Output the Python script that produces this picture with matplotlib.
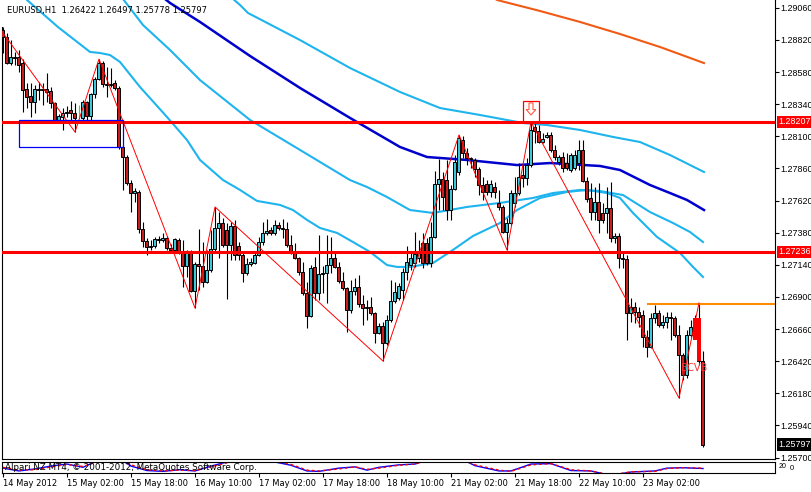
import numpy as np
import matplotlib
matplotlib.use('Agg')
import matplotlib.pyplot as plt
from matplotlib.patches import Rectangle, Polygon

plt.rcParams['font.family'] = ['DejaVu Sans']

# EURUSD H1 candles (bar index 0 = 14 May 2012)
opens = [
    1.28894, 1.28842, 1.28647, 1.28692, 1.28692, 1.28647, 1.28453, 1.28401, 1.28356, 1.28453,
    1.28446, 1.28453, 1.28438, 1.28349, 1.28214, 1.28244, 1.28274, 1.28296, 1.28274, 1.28274,
    1.28237, 1.28356, 1.28252, 1.28416, 1.28528, 1.28647, 1.28491, 1.28483, 1.28498, 1.28461,
    1.28020, 1.27945, 1.27751, 1.27676, 1.27684, 1.27407, 1.27318, 1.27273, 1.27280, 1.27333,
    1.27325, 1.27340, 1.27265, 1.27251, 1.27325, 1.27236, 1.27131, 1.27228, 1.26944, 1.27146,
    1.27131, 1.27012, 1.27101, 1.27258, 1.27415, 1.27452, 1.27400, 1.27288, 1.27430, 1.27280,
    1.27213, 1.27079, 1.27146, 1.27153, 1.27213, 1.27310, 1.27378, 1.27400, 1.27378, 1.27437,
    1.27415, 1.27407, 1.27288, 1.27228, 1.27191, 1.27086, 1.26929, 1.26757, 1.27124, 1.26929,
    1.27071, 1.27079, 1.27138, 1.27191, 1.27124, 1.27019, 1.26967, 1.26802, 1.26944, 1.26974,
    1.26847, 1.26817, 1.26825, 1.26780, 1.26631, 1.26683, 1.26556, 1.26728, 1.26870, 1.26892,
    1.26952, 1.27086, 1.27138, 1.27153, 1.27191, 1.27303, 1.27303, 1.27153, 1.27348, 1.27744,
    1.27781, 1.27773, 1.27549, 1.27706, 1.27833, 1.28072, 1.27975, 1.27938, 1.27923, 1.27856,
    1.27736, 1.27744, 1.27684, 1.27721, 1.27602, 1.27572, 1.27385, 1.27452, 1.27602, 1.27676,
    1.27811, 1.27788, 1.27885, 1.28169, 1.28139, 1.28057, 1.28095, 1.28110, 1.27998, 1.27908,
    1.27945, 1.27900, 1.27848, 1.27863, 1.27900, 1.27998, 1.27766, 1.27639, 1.27534, 1.27609,
    1.27527, 1.27527, 1.27564, 1.27340, 1.27355, 1.27191, 1.27183, 1.26780, 1.26825, 1.26787,
    1.26765, 1.26601, 1.26526, 1.26743, 1.26780, 1.26690, 1.26713, 1.26750, 1.26743, 1.26616,
    1.26466, 1.26317, 1.26616, 1.26675, 1.26743, 1.26422]
highs = [
    1.28916, 1.28872, 1.28819, 1.28730, 1.28745, 1.28677, 1.28498, 1.28498, 1.28483, 1.28505,
    1.28498, 1.28573, 1.28468, 1.28356, 1.28266, 1.28311, 1.28326, 1.28364, 1.28349, 1.28334,
    1.28371, 1.28364, 1.28423, 1.28543, 1.28677, 1.28662, 1.28618, 1.28610, 1.28520, 1.28476,
    1.28035, 1.27960, 1.27773, 1.27714, 1.27699, 1.27460, 1.27340, 1.27325, 1.27348, 1.27355,
    1.27378, 1.27355, 1.27295, 1.27340, 1.27340, 1.27325, 1.27251, 1.27251, 1.27161, 1.27407,
    1.27310, 1.27251, 1.27400, 1.27572, 1.27534, 1.27490, 1.27452, 1.27460, 1.27475, 1.27310,
    1.27236, 1.27191, 1.27191, 1.27228, 1.27348, 1.27460, 1.27482, 1.27422, 1.27475, 1.27460,
    1.27482, 1.27460, 1.27363, 1.27303, 1.27198, 1.27161, 1.27012, 1.27138, 1.27198, 1.27363,
    1.27131, 1.27363, 1.27348, 1.27228, 1.27161, 1.27086, 1.26974, 1.27026, 1.27041, 1.27064,
    1.26914, 1.26877, 1.26899, 1.26787, 1.26705, 1.26713, 1.26765, 1.27026, 1.27012, 1.27004,
    1.27116, 1.27280, 1.27228, 1.27385, 1.27325, 1.27378, 1.27340, 1.27460, 1.27841, 1.27930,
    1.27833, 1.27923, 1.27736, 1.27960, 1.28110, 1.28102, 1.28012, 1.27945, 1.27938, 1.27871,
    1.27796, 1.27773, 1.27773, 1.27759, 1.27699, 1.27587, 1.27490, 1.27699, 1.27796, 1.27900,
    1.27885, 1.27938, 1.28207, 1.28199, 1.28184, 1.28125, 1.28132, 1.28132, 1.28035, 1.27960,
    1.27983, 1.27975, 1.27975, 1.27998, 1.28072, 1.28072, 1.27796, 1.27751, 1.27721, 1.27751,
    1.27602, 1.27721, 1.27759, 1.27378, 1.27378, 1.27228, 1.27213, 1.26892, 1.26862, 1.26825,
    1.26802, 1.26653, 1.26780, 1.26840, 1.26802, 1.26765, 1.26787, 1.26787, 1.26757, 1.26690,
    1.26481, 1.26653, 1.26728, 1.26765, 1.26855, 1.26497]
lows = [
    1.28722, 1.28640, 1.28632, 1.28632, 1.28580, 1.28281, 1.28311, 1.28244, 1.28274, 1.28371,
    1.28334, 1.28356, 1.28311, 1.28199, 1.28199, 1.28147, 1.28244, 1.28222, 1.28132, 1.28237,
    1.28222, 1.28222, 1.28222, 1.28386, 1.28520, 1.28468, 1.28393, 1.28468, 1.28446, 1.28005,
    1.27699, 1.27736, 1.27534, 1.27609, 1.27378, 1.27273, 1.27213, 1.27251, 1.27265, 1.27303,
    1.27310, 1.27251, 1.27236, 1.27228, 1.27221, 1.26974, 1.27049, 1.26937, 1.26817, 1.26952,
    1.26974, 1.27004, 1.27086, 1.27243, 1.27191, 1.27273, 1.26885, 1.27176, 1.27176, 1.27176,
    1.27012, 1.27064, 1.27131, 1.27146, 1.27206, 1.27288, 1.27363, 1.27363, 1.27363, 1.27400,
    1.27340, 1.27273, 1.27221, 1.27183, 1.27064, 1.26914, 1.26668, 1.26750, 1.26877, 1.26877,
    1.26929, 1.26855, 1.27079, 1.27116, 1.27004, 1.26952, 1.26638, 1.26780, 1.26914, 1.26825,
    1.26690, 1.26728, 1.26765, 1.26556, 1.26623, 1.26421, 1.26541, 1.26713, 1.26855, 1.26877,
    1.26877, 1.27026, 1.27101, 1.27124, 1.27161, 1.27116, 1.27138, 1.27124, 1.27340, 1.27549,
    1.27549, 1.27475, 1.27475, 1.27699, 1.27811, 1.27938, 1.27885, 1.27863, 1.27796, 1.27661,
    1.27624, 1.27661, 1.27646, 1.27639, 1.27549, 1.27378, 1.27251, 1.27437, 1.27572, 1.27661,
    1.27721, 1.27736, 1.27871, 1.28050, 1.28050, 1.28050, 1.28087, 1.27983, 1.27923, 1.27885,
    1.27833, 1.27848, 1.27833, 1.27848, 1.27848, 1.27759, 1.27609, 1.27475, 1.27475, 1.27378,
    1.27452, 1.27378, 1.27310, 1.27303, 1.27116, 1.27116, 1.26578, 1.26713, 1.26705, 1.26675,
    1.26526, 1.26451, 1.26518, 1.26705, 1.26675, 1.26668, 1.26668, 1.26578, 1.26601, 1.26145,
    1.26279, 1.26294, 1.26601, 1.26638, 1.26391, 1.25778]
closes = [
    1.28842, 1.28647, 1.28692, 1.28685, 1.28632, 1.28446, 1.28393, 1.28356, 1.28453, 1.28446,
    1.28453, 1.28431, 1.28349, 1.28214, 1.28252, 1.28274, 1.28281, 1.28274, 1.28237, 1.28274,
    1.28356, 1.28252, 1.28416, 1.28528, 1.28647, 1.28491, 1.28483, 1.28491, 1.28461, 1.28020,
    1.27945, 1.27751, 1.27676, 1.27691, 1.27407, 1.27318, 1.27273, 1.27280, 1.27333, 1.27325,
    1.27340, 1.27265, 1.27251, 1.27333, 1.27236, 1.27131, 1.27236, 1.26944, 1.27146, 1.27131,
    1.27012, 1.27101, 1.27258, 1.27415, 1.27452, 1.27288, 1.27288, 1.27430, 1.27213, 1.27213,
    1.27079, 1.27146, 1.27161, 1.27213, 1.27310, 1.27378, 1.27392, 1.27378, 1.27437, 1.27415,
    1.27407, 1.27288, 1.27228, 1.27191, 1.27086, 1.26929, 1.26757, 1.27116, 1.26929, 1.27071,
    1.27079, 1.27138, 1.27191, 1.27124, 1.27019, 1.26967, 1.26802, 1.26944, 1.26974, 1.26847,
    1.26817, 1.26825, 1.26780, 1.26631, 1.26683, 1.26556, 1.26728, 1.26870, 1.26937, 1.26982,
    1.27086, 1.27161, 1.27191, 1.27221, 1.27228, 1.27153, 1.27153, 1.27348, 1.27744, 1.27781,
    1.27646, 1.27549, 1.27706, 1.27908, 1.28087, 1.27975, 1.27938, 1.27930, 1.27856, 1.27736,
    1.27684, 1.27684, 1.27744, 1.27684, 1.27572, 1.27385, 1.27452, 1.27676, 1.27676, 1.27796,
    1.27788, 1.27885, 1.28147, 1.28139, 1.28057, 1.28080, 1.28110, 1.27998, 1.27945, 1.27945,
    1.27863, 1.27863, 1.27960, 1.27960, 1.27998, 1.27766, 1.27632, 1.27534, 1.27609, 1.27475,
    1.27475, 1.27564, 1.27340, 1.27355, 1.27191, 1.27183, 1.26780, 1.26825, 1.26787, 1.26750,
    1.26601, 1.26526, 1.26743, 1.26780, 1.26690, 1.26713, 1.26750, 1.26743, 1.26616, 1.26466,
    1.26317, 1.26616, 1.26675, 1.26743, 1.26421, 1.25797]

# zigzag turning points
zz_bars = [0, 18, 24, 48, 53, 95, 114, 126, 132, 169, 174]
zz_prices = [1.28872, 1.28132, 1.28677, 1.26817, 1.27572, 1.26421,
             1.28110, 1.27251, 1.28207, 1.26145, 1.26855]

# moving averages (bar, price)
ma_fast_bars = [3, 6, 13.75, 21.75, 24.25, 26.75, 29.25, 34.25, 41, 46, 49.25, 55, 59.25,
                63.5, 69.25, 72.5, 76, 79.25, 83.5, 87.5, 91.75, 96, 98.5, 101.75, 107.5,
                112.5, 117.5, 124.25, 128.5, 134.25, 141, 146, 151, 154.25, 157.5, 163.5,
                169.25, 172.5, 175]
ma_fast = [1.29208, 1.29118, 1.28916, 1.28730, 1.28722, 1.28707, 1.28655, 1.28468, 1.28244,
           1.28072, 1.27923, 1.27773, 1.27699, 1.27617, 1.27587, 1.27549, 1.27475, 1.27415,
           1.27378, 1.27310, 1.27236, 1.27138, 1.27124, 1.27124, 1.27153, 1.27251, 1.27355,
           1.27452, 1.27549, 1.27639, 1.27684, 1.27699, 1.27676, 1.27639, 1.27527, 1.27348,
           1.27228, 1.27124, 1.27049]
ma_mid_bars = [29.25, 35, 41.75, 49.25, 61.75, 74.25, 86.75, 91, 96, 101.75, 107.5, 116,
               124.25, 132.5, 137.5, 144.25, 149.25, 155, 161.75, 167.5, 171.75, 175]
ma_mid = [1.29155, 1.28931, 1.28745, 1.28520, 1.28222, 1.27998, 1.27773, 1.27721, 1.27646,
          1.27549, 1.27527, 1.27572, 1.27602, 1.27639, 1.27676, 1.27699, 1.27691, 1.27661,
          1.27534, 1.27452, 1.27385, 1.27310]
ma_slow_bars = [55.5, 59.25, 61.25, 74.25, 86.75, 99.25, 109.25, 119.25, 130, 136, 144.25,
                152.5, 159.25, 166.75, 175.25]
ma_slow = [1.29178, 1.29081, 1.29021, 1.28819, 1.28610, 1.28431, 1.28311, 1.28259, 1.28199,
           1.28184, 1.28147, 1.28095, 1.28057, 1.27960, 1.27833]
ma_blue_bars = [39.25, 41.75, 49.25, 61.75, 74.25, 86.75, 99.25, 106, 116, 128.5, 136.75,
                149.25, 154.25, 161.75, 166.75, 171, 175.25]
ma_blue = [1.29155, 1.29096, 1.28954, 1.28700, 1.28461, 1.28237, 1.28020, 1.27945, 1.27923,
           1.27885, 1.27900, 1.27878, 1.27848, 1.27736, 1.27676, 1.27624, 1.27549]
ma_long_bars = [121.75, 123.5, 134.25, 144.25, 154.25, 164.25, 175.25]
ma_long = [1.29155, 1.29118, 1.29036, 1.28954, 1.28864, 1.28767, 1.28647]

# levels and objects
level_red = [1.28207, 1.27236]
level_orange = 1.26850
orange_from = 161
box_bars = (4, 30)
box_prices = (1.28020, 1.28222)
arrow_bar = 132
arrow_box = (1.28207, 1.28364)
arrow_top, arrow_tip = 1.28349, 1.28259
signal_bars = [173, 174]
signal_top = [1.26743, 1.26743]
signal_bottom = [1.26578, 1.26421]
signal_label_bar, signal_label_price = 169.5, 1.26369

# oscillator sub-window
osc_bars = [0, 4, 8, 12, 16, 20, 24, 28, 32, 36, 40, 44, 48, 52, 56, 60, 64, 68, 72, 76, 79,
            84, 88, 91, 94, 99, 103, 106, 112, 118, 124, 127, 132, 137, 142, 147, 152, 157,
            163, 166, 170, 175]
osc_blue = [10, 3, 8, 15, 20, 12, 30, 40, 15, 4, 2, 6, 3, 15, 25, 35, 30, 25, 17, 3, 2, 10,
            13, 5, 12, 18, 20, 30, 45, 16, 3, 3, 20, 21, 4, 3, -8, 0.5, 3, 10, 11, 9]
osc_red = [12, 5, 6, 13, 19, 14, 27, 38, 18, 6, 3, 5, 4, 13, 23, 33, 31, 26, 19, 5, 3, 8,
           13, 7, 10, 17, 20, 28, 44, 18, 5, 2, 18, 21, 6, 3, -7, 1, 2, 9, 11, 10]

price_ticks = [1.29060, 1.28820, 1.28580, 1.28340, 1.28100, 1.27860, 1.27620, 1.27380,
               1.27140, 1.26900, 1.26660, 1.26420, 1.26180, 1.25940, 1.25700]
time_ticks = [0, 16, 32, 48, 64, 80, 96, 112, 128, 144, 160]
time_labels = ['14 May 2012', '15 May 02:00', '15 May 18:00', '16 May 10:00', '17 May 02:00',
               '17 May 18:00', '18 May 10:00', '21 May 02:00', '21 May 18:00', '22 May 10:00',
               '23 May 02:00']

bull_col = '#3cc8d8'
bear_col = '#c81e1e'
cyan_ma = '#1eb4ee'
axis_font = 'Liberation Sans'

W, H = 812, 492
fig = plt.figure(figsize=(W / 100, H / 100), dpi=100)
ax = fig.add_axes([2 / W, 33 / H, 773 / W, 459 / H])
ax2 = fig.add_axes([2 / W, 19 / H, 773 / W, 11 / H])

ax.set_xlim(-0.25, 193)
ax.set_ylim(1.25689, 1.29118)

# candles
o = np.array(opens)
h = np.array(highs)
l = np.array(lows)
c = np.array(closes)
idx = np.arange(len(c))
up = c > o
dn = c < o
doji = c == o
body_lo = np.minimum(o, c)
body_h = np.maximum(np.abs(c - o), 0.00002)

ax.vlines(idx[~doji], l[~doji], h[~doji], color='black', lw=0.8, zorder=3)
ax.vlines(idx[doji], l[doji], h[doji], color='#00ff00', lw=0.8, zorder=3)
ax.bar(idx[up], body_h[up], bottom=body_lo[up], width=0.75, color=bull_col,
       edgecolor='black', lw=0.7, zorder=4)
ax.bar(idx[dn], body_h[dn], bottom=body_lo[dn], width=0.75, color=bear_col,
       edgecolor='black', lw=0.7, zorder=4)
ax.bar(signal_bars, np.array(signal_top) - np.array(signal_bottom), bottom=signal_bottom,
       width=1.0, color='red', lw=0, zorder=5)

# moving averages
ax.plot(ma_fast_bars, ma_fast, color=cyan_ma, lw=1.5, zorder=2)
ax.plot(ma_mid_bars, ma_mid, color=cyan_ma, lw=1.5, zorder=2)
ax.plot(ma_slow_bars, ma_slow, color=cyan_ma, lw=1.5, zorder=2)
ax.plot(ma_blue_bars, ma_blue, color='#0000cd', lw=1.8, zorder=2)
ax.plot(ma_long_bars, ma_long, color='#f05a14', lw=1.5, zorder=2)

# zigzag
ax.plot(zz_bars, zz_prices, color='red', lw=0.7, zorder=6)

# levels
for lv in level_red:
    ax.axhline(lv, color='red', lw=2.2, zorder=5)
ax.hlines(level_orange, orange_from, 193, color='#ff8c00', lw=1.5, zorder=5)

# objects
ax.add_patch(Rectangle((box_bars[0], box_prices[0]), box_bars[1] - box_bars[0],
                       box_prices[1] - box_prices[0], fill=False, ec='#0000ff', lw=0.9, zorder=6))
ax.add_patch(Rectangle((arrow_bar - 2, arrow_box[0]), 4, arrow_box[1] - arrow_box[0],
                       fill=False, ec='red', lw=0.9, zorder=6))
mid = arrow_top - 0.55 * (arrow_top - arrow_tip)
ax.add_patch(Polygon([(arrow_bar - 0.5, arrow_top), (arrow_bar + 0.5, arrow_top),
                      (arrow_bar + 0.5, mid), (arrow_bar + 1.2, mid), (arrow_bar, arrow_tip),
                      (arrow_bar - 1.2, mid), (arrow_bar - 0.5, mid)],
                     closed=True, fill=False, ec='#ff5a3c', lw=0.8, zorder=7))
ax.text(signal_label_bar, signal_label_price, 'ECVB', color='#ff3030', fontsize=7,
        ha='left', va='center', zorder=7)

# price axis
ax.yaxis.tick_right()
ax.set_yticks(price_ticks)
ax.set_yticklabels([f'{v:.5f}' for v in price_ticks], fontfamily=axis_font)
ax.tick_params(axis='y', direction='out', length=3, width=0.8, pad=1, labelsize=6.4)
ax.set_xticks([])
ax.spines['top'].set_visible(False)
ax.spines['left'].set_bounds(1.25689, 1.28916)
for s in ax.spines.values():
    s.set_linewidth(0.8)

for price, face in [(level_red[0], 'red'), (level_red[1], 'red'), (closes[-1], 'black')]:
    ax.text(1.0 + 3.5 / 773, price, f'{price:.5f}', transform=ax.get_yaxis_transform(),
            color='white', fontsize=6.4, fontfamily=axis_font, ha='left', va='center',
            zorder=10, clip_on=False,
            bbox=dict(boxstyle='square,pad=0.2', fc=face, ec='none'))

# sub-window
ax2.set_xlim(-0.25, 193)
ax2.set_ylim(-2, 25)
ax2.plot(osc_bars, osc_blue, color='#0000ff', lw=1)
ax2.plot(osc_bars, osc_red, color='red', lw=1, ls=(0, (2, 2)))
ax2.set_yticks([])
ax2.set_xticks(time_ticks)
ax2.set_xticklabels(time_labels, ha='left')
ax2.tick_params(axis='x', direction='out', length=3, width=0.8, pad=1.5, labelsize=6)
for s in ax2.spines.values():
    s.set_linewidth(0.8)

fig.text(7 / W, 1 - 11 / H, 'EURUSD,H1  1.26422 1.26497 1.25778 1.25797', fontsize=6,
         ha='left', va='center')
fig.text(5 / W, 1 - 467 / H, 'Alpari NZ MT4, \u00a9 2001-2012, MetaQuotes Software Corp.',
         fontsize=6.3, ha='left', va='center')
fig.text(779 / W, 1 - 466 / H, '20', fontsize=5, fontfamily=axis_font, ha='left', va='center')
fig.text(790 / W, 1 - 469 / H, '0', fontsize=5.5, fontfamily=axis_font, ha='left', va='center')

fig.savefig('out.png', dpi=100)
